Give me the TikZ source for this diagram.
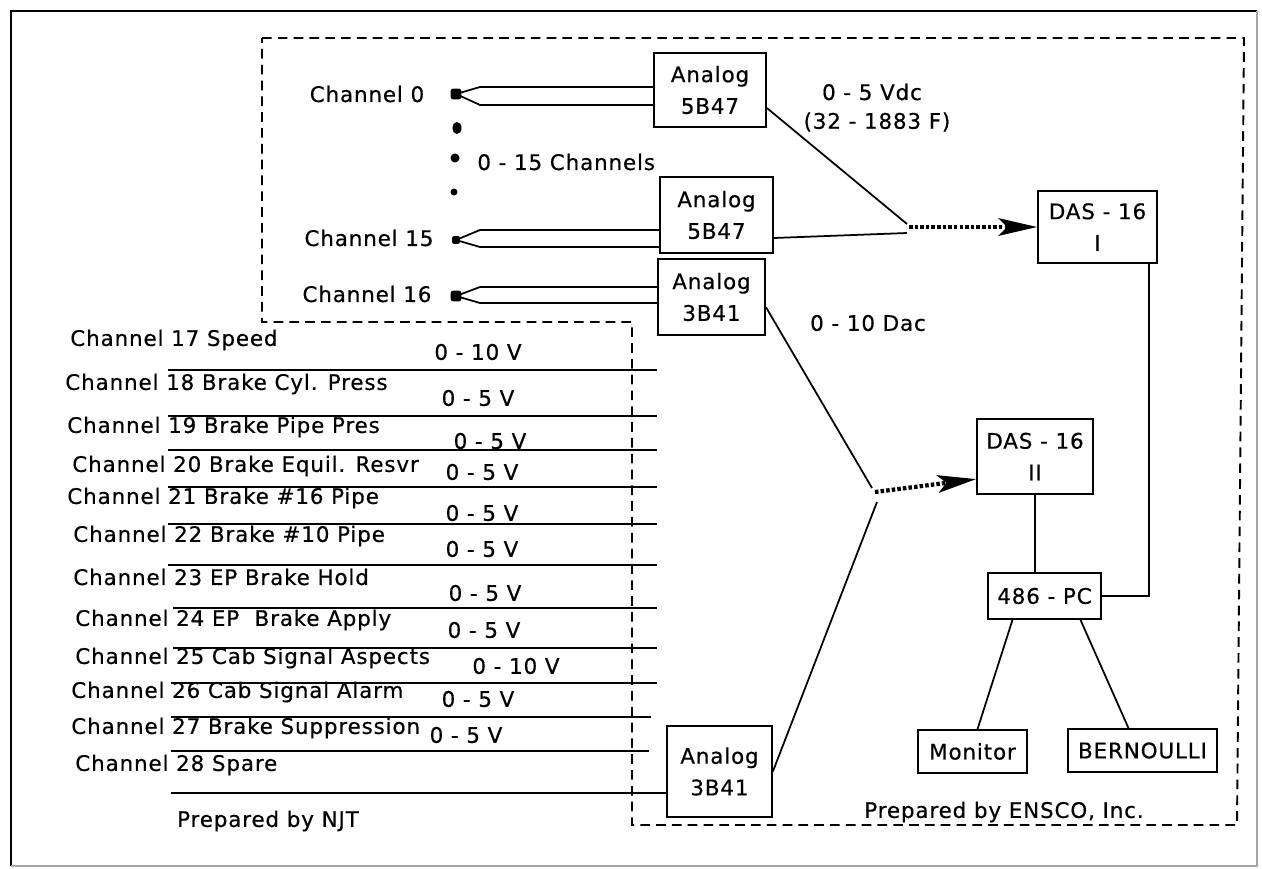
\documentclass[tikz,border=0pt]{standalone}
\usepackage{fontspec}
\setmainfont[LetterSpace=4,FakeBold=0.5]{DejaVu Sans}
\usetikzlibrary{arrows.meta,calc}
\begin{document}
\begin{tikzpicture}[x=0.02cm,y=-0.02cm,
  font=\fontsize{12.2}{18}\selectfont,
  box/.style={draw,line width=1pt,inner sep=0pt,align=center},
  lbl/.style={inner sep=0pt},
  wire/.style={line width=1pt},
  chline/.style={line width=1.1pt},
  dashbound/.style={line width=1.1pt,dash pattern=on 5.5pt off 3.5pt},
  dotarrow/.style={line width=2.4pt,dash pattern=on 2pt off 1.2pt,
     -{Stealth[length=22pt,width=10pt,inset=5pt]}},
  termdot/.style={fill,rounded corners=1.2pt,inner sep=0pt,minimum size=#1},
]
\useasboundingbox (0,0) rectangle (1262,869);
% outer frame
\draw[line width=1.2pt] (11,866) -- (11,11) -- (1257,11);
\draw[line width=1pt,black!35] (1257,11) -- (1257,866) -- (11,866);
% dashed boundary
\draw[dashbound] (262,38) -- (1244,38) -- (1237,825) -- (632,825) -- (632,322) -- (262,322) -- cycle;

% boxes
\node[box,minimum width=2.24cm,minimum height=1.48cm] (a1) at (710,90) {Analog\\5B47};
\node[box,minimum width=2.26cm,minimum height=1.52cm] (a2) at (716.5,215) {Analog\\5B47};
\node[box,minimum width=2.14cm,minimum height=1.52cm] (a3) at (711.5,297) {Analog\\3B41};
\node[box,minimum width=2.10cm,minimum height=1.82cm] (a4) at (719.5,771.5) {Analog\\3B41};
\node[box,minimum width=2.38cm,minimum height=1.44cm] (das1) at (1097.5,227) {DAS - 16\\I};
\node[box,minimum width=2.32cm,minimum height=1.50cm] (das2) at (1035,456.5) {DAS - 16\\II};
\node[box,minimum width=2.26cm,minimum height=0.92cm] (pc) at (1044.5,596) {486 - PC};
\node[box,minimum width=2.18cm,minimum height=0.86cm] (mon) at (972.5,751.5) {Monitor};
\node[box,minimum width=2.98cm,minimum height=0.86cm] (ber) at (1142.5,750.5) {BERNOULLI};

% top channels
\node[lbl] (l0) at (367,94) {Channel 0};
\node[lbl] (l15) at (369,238) {Channel 15};
\node[lbl] (l16) at (367,294) {Channel 16};
\node[termdot=6pt] (c0) at (456,94) {};
\node[termdot=4.5pt] (c15) at (456,240) {};
\node[termdot=6pt] (c16) at (456,296) {};
\fill (457,128) ellipse [x radius=4.5,y radius=6];
\fill (455,158) circle [radius=4.5];
\fill (454,192) circle [radius=3.5];
\node[lbl,anchor=west] (n15) at (477,162) {0 - 15 Channels};

\draw[wire] (c0.center) -- (480,87) -- (a1.west |- 0,87);
\draw[wire] (c0.center) -- (480,105) -- (a1.west |- 0,105);
\draw[wire] (c15.center) -- (480,230) -- (a2.west |- 0,230);
\draw[wire] (c15.center) -- (480,247) -- (a2.west |- 0,247);
\draw[wire] (c16.center) -- (480,287) -- (a3.west |- 0,287);
\draw[wire] (c16.center) -- (480,303) -- (a3.west |- 0,303);

% signal labels
\node[lbl] (v1) at (872,92) {0 - 5 Vdc};
\node[lbl] (v2) at (877,122) {(32 - 1883 F)};
\node[lbl] (v3) at (868,323) {0 - 10 Dac};

% junctions and arrows
\coordinate (j1) at (909,227);
\coordinate (j2) at (875,492);
\draw[wire] ($(a1.east)+(0,18)$) -- (907,224);
\draw[wire] ($(a2.east)+(0,23)$) -- (907,233);
\draw[dotarrow] (j1) -- (das1.west);
\draw[wire] ($(a3.east)+(0,10)$) -- (872,488);
\draw[wire] (a4.east) -- (877,502);
\draw[dotarrow] (j2) -- (das2.201);

% computer connections
\draw[wire] (das2.south) -- (das2.south |- pc.north);
\draw[wire] (pc.east) -| ($(das1.south east)+(-9,0)$);
\draw[wire] ($(pc.south)+(-32,0)$) -- ($(mon.north)+(5,0)$);
\draw[wire] ($(pc.south)+(36,0)$) -- ($(ber.north)+(-14,0)$);

% lower channel list
\node[lbl,anchor=west] (t17) at (70,340) {Channel 17 Speed};
\node[lbl,anchor=west] (t18) at (65,384) {Channel 18 Brake Cyl. Press};
\node[lbl,anchor=west] (t19) at (67,427) {Channel 19 Brake Pipe Pres};
\node[lbl,anchor=west] (t20) at (72,466) {Channel 20 Brake Equil. Resvr};
\node[lbl,anchor=west] (t21) at (67,498) {Channel 21 Brake \#16 Pipe};
\node[lbl,anchor=west] (t22) at (73,536) {Channel 22 Brake \#10 Pipe};
\node[lbl,anchor=west] (t23) at (73,577) {Channel 23 EP Brake Hold};
\node[lbl,anchor=west] (t24) at (75,620) {Channel 24 EP~~Brake Apply};
\node[lbl,anchor=west] (t25) at (75,658) {Channel 25 Cab Signal Aspects};
\node[lbl,anchor=west] (t26) at (71,692) {Channel 26 Cab Signal Alarm};
\node[lbl,anchor=west] (t27) at (71,728) {Channel 27 Brake Suppression};
\node[lbl,anchor=west] (t28) at (75,765) {Channel 28 Spare};

\node[lbl] (u17) at (478,352) {0 - 10 V};
\node[lbl] (u18) at (478,398) {0 - 5 V};
\node[lbl] (u19) at (490,441) {0 - 5 V};
\node[lbl] (u20) at (482,472) {0 - 5 V};
\node[lbl] (u21) at (482,513) {0 - 5 V};
\node[lbl] (u22) at (482,549) {0 - 5 V};
\node[lbl] (u23) at (485,593) {0 - 5 V};
\node[lbl] (u24) at (484,630) {0 - 5 V};
\node[lbl] (u25) at (516,666) {0 - 10 V};
\node[lbl] (u26) at (478,699) {0 - 5 V};
\node[lbl] (u27) at (466,735) {0 - 5 V};

\draw[chline] (168,370) -- (657,370);
\draw[chline] (168,416) -- (657,416);
\draw[chline] (168,450) -- (657,450);
\draw[chline] (168,487) -- (657,487);
\draw[chline] (168,524) -- (657,524);
\draw[chline] (168,565) -- (657,565);
\draw[chline] (173,608) -- (657,608);
\draw[chline] (173,648) -- (657,648);
\draw[chline] (171,683) -- (657,683);
\draw[chline] (171,717) -- (651,717);
\draw[chline] (171,751) -- (649,751);
\coordinate (s28) at (171,793);
\draw[chline] (s28) -- (a4.west |- s28);

\node[lbl] (pn) at (268,821) {Prepared by NJT};
\node[lbl] (pe) at (1004,812) {Prepared by ENSCO, Inc.};
\end{tikzpicture}
\end{document}
